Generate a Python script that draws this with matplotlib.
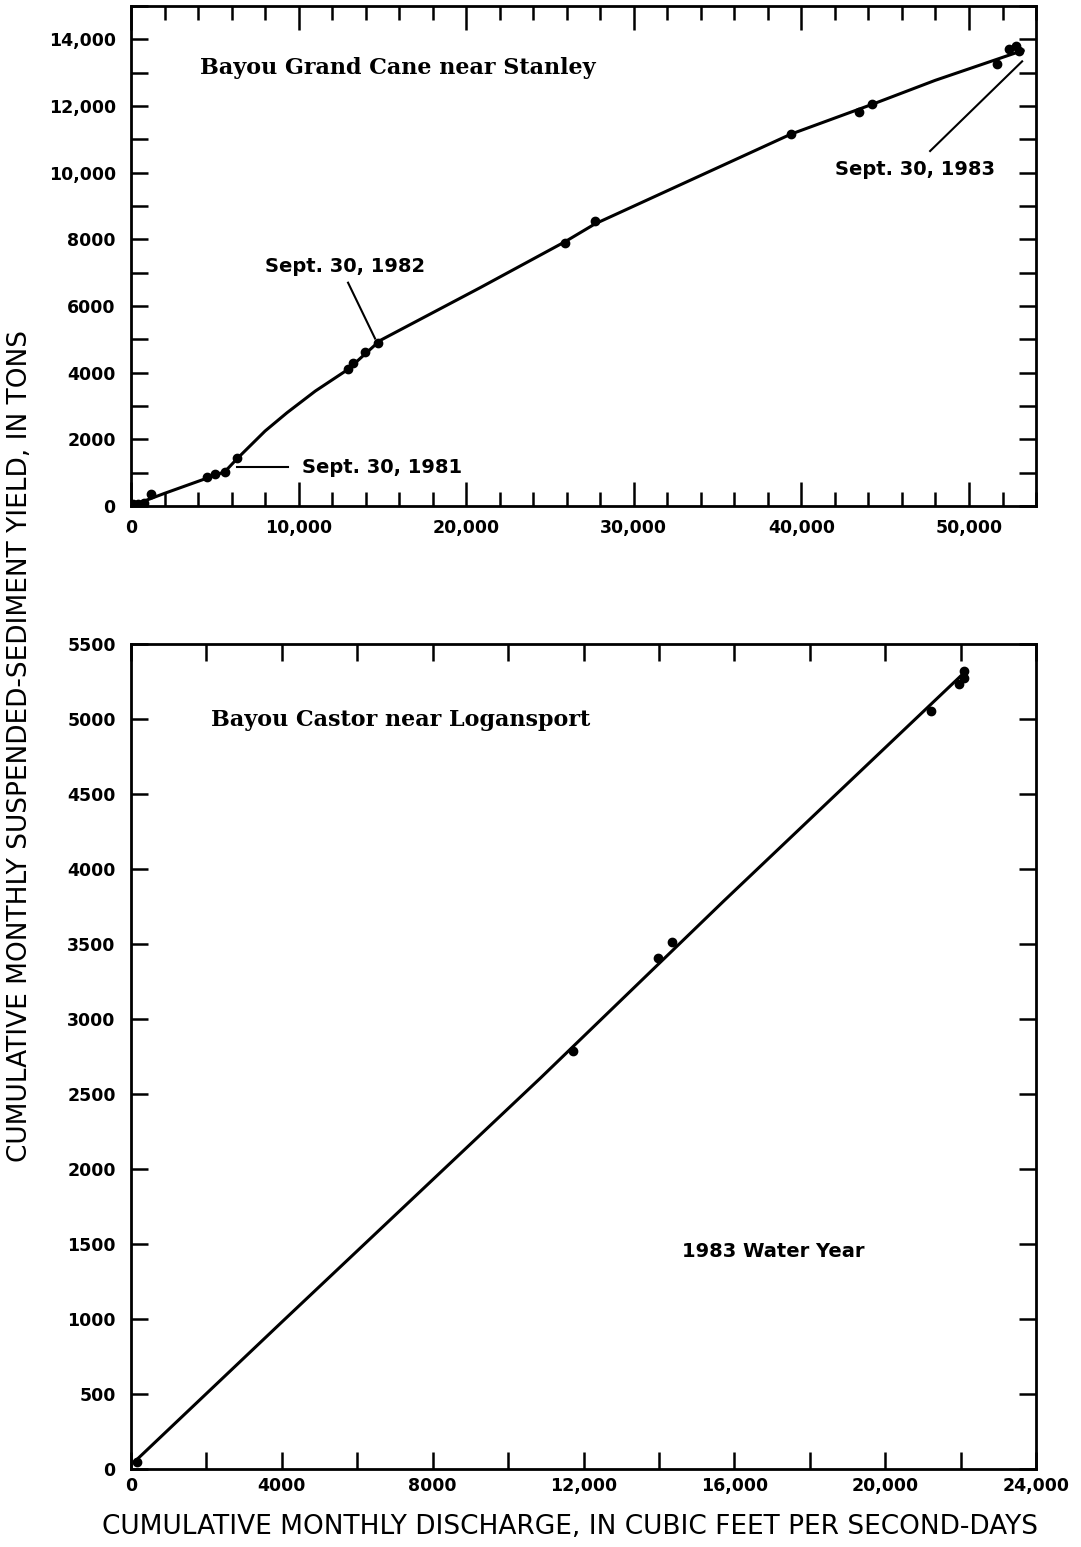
import numpy as np
import matplotlib
matplotlib.use('Agg')
import matplotlib.pyplot as plt
from matplotlib.ticker import MultipleLocator, FuncFormatter

# --- Bayou Grand Cane near Stanley
gc_x = [100, 400, 800, 1200, 4540, 5010, 5610, 6330, 12950, 13250, 13970, 14740,
        25900, 27700, 39400, 43460, 44240, 51700, 52360, 52780, 52960]
gc_y = [60, 50, 80, 350, 870, 960, 1020, 1440, 4100, 4280, 4610, 4880,
        7900, 8560, 11160, 11820, 12060, 13250, 13700, 13790, 13640]
# curve drawn through the points
gc_cx = [0, 2000, 4500, 5600, 6330, 8000, 9310, 11000, 12950, 14860, 20830, 25900,
         27690, 39390, 44220, 47980, 53230]
gc_cy = [0, 380, 830, 1030, 1420, 2250, 2800, 3450, 4100, 4966, 6550, 7930,
         8466, 11160, 12050, 12770, 13670]

# --- Bayou Castor near Logansport
bc_x = [160, 11730, 13970, 14340, 21210, 21950, 22090, 22090]
bc_y = [47, 2787, 3407, 3513, 5053, 5233, 5273, 5320]
bc_cx = [100, 4000, 10860, 15720, 22100]
bc_cy = [50, 980, 2607, 3787, 5310]

serif = 'DejaVu Serif'
sans = 'DejaVu Sans'
plt.rcParams['font.family'] = sans


def fmt(v, pos):
    v = int(round(v))
    return '{:,}'.format(v) if v >= 10000 else str(v)


def style(ax, xmaj, xmin, ymaj, ymin, xlong, xshort, xpad):
    for s in ax.spines.values():
        s.set_linewidth(2)
    ax.xaxis.set_major_locator(MultipleLocator(xmaj))
    ax.xaxis.set_minor_locator(MultipleLocator(xmin))
    ax.yaxis.set_major_locator(MultipleLocator(ymaj))
    ax.yaxis.set_minor_locator(MultipleLocator(ymin))
    ax.xaxis.set_major_formatter(FuncFormatter(fmt))
    ax.yaxis.set_major_formatter(FuncFormatter(fmt))
    ax.tick_params(axis='x', which='major', direction='in', top=True, length=xlong,
                   width=1.8, labelsize=12.5, pad=xpad)
    ax.tick_params(axis='x', which='minor', direction='in', top=True, length=xshort,
                   width=1.8)
    ax.tick_params(axis='y', which='both', direction='in', right=True, length=12,
                   width=1.8, labelsize=12.5, pad=11)
    for lab in ax.get_xticklabels() + ax.get_yticklabels():
        lab.set_fontweight('bold')


fig = plt.figure(figsize=(10.81, 15.47), dpi=100)

# top panel
ax1 = fig.add_axes([0.1212, 0.6729, 0.8372, 0.3232])
ax1.plot(gc_cx, gc_cy, color='black', lw=2.2)
ax1.plot(gc_x, gc_y, 'o', color='black', ms=6)
ax1.set_xlim(0, 54000)
ax1.set_ylim(0, 15000)
style(ax1, 10000, 2000, 2000, 1000, 17, 10, 9)
ax1.text(4120, 13130, 'Bayou Grand Cane near Stanley', family=serif,
         fontweight='bold', fontsize=16, va='center', ha='left')
ax1.text(12770, 7180, 'Sept. 30, 1982', fontsize=14, fontweight='bold',
         ha='center', va='center')
ax1.plot([12950, 14560], [6700, 5025], color='black', lw=1.5)
ax1.text(10200, 1167, 'Sept. 30, 1981', fontsize=14, fontweight='bold',
         ha='left', va='center')
ax1.plot([6330, 9370], [1167, 1167], color='black', lw=1.5)
ax1.text(46790, 10110, 'Sept. 30, 1983', fontsize=14, fontweight='bold',
         ha='center', va='center')
ax1.plot([47680, 53170], [10650, 13340], color='black', lw=1.5)

# bottom panel
ax2 = fig.add_axes([0.1212, 0.0504, 0.8372, 0.5333])
ax2.plot(bc_cx, bc_cy, color='black', lw=2.2)
ax2.plot(bc_x, bc_y, 'o', color='black', ms=6)
ax2.set_xlim(0, 24000)
ax2.set_ylim(0, 5500)
style(ax2, 4000, 2000, 500, 500, 12, 12, 6)
ax2.text(2124, 4993, 'Bayou Castor near Logansport', family=serif,
         fontweight='bold', fontsize=16, va='center', ha='left')
ax2.text(17020, 1453, '1983 Water Year', fontsize=14, fontweight='bold',
         ha='center', va='center')

fig.text(0.0185, 0.518, 'CUMULATIVE MONTHLY SUSPENDED-SEDIMENT YIELD, IN TONS',
         rotation=90, ha='center', va='center', fontsize=19)
fig.text(0.527, 0.0129, 'CUMULATIVE MONTHLY DISCHARGE, IN CUBIC FEET PER SECOND-DAYS',
         ha='center', va='center', fontsize=19)

fig.savefig('out.png', dpi=100)
